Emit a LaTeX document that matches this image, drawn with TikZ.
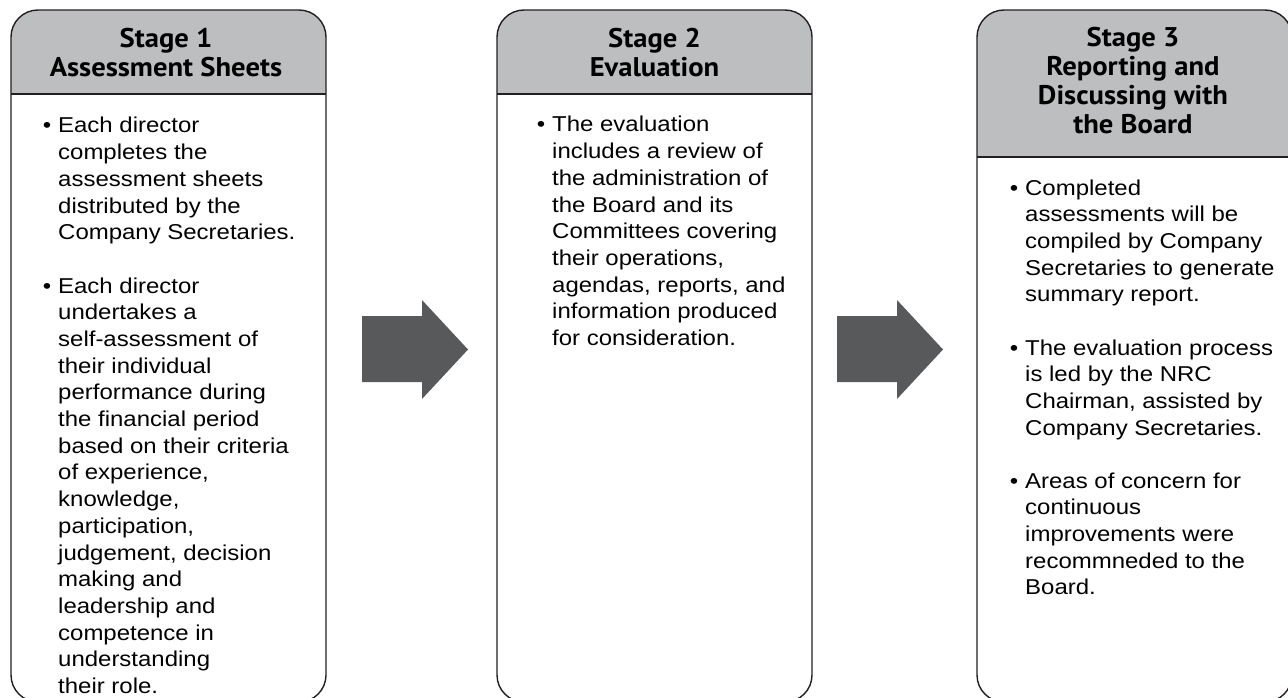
\documentclass[tikz,border=0pt]{standalone}
\usepackage{fontspec}
\newfontfamily\bodyfont[FakeStretch=1.115]{Liberation Sans}
\newfontfamily\headfont[FakeStretch=1.06]{PT Sans}
\definecolor{hdrgray}{HTML}{BCBEC0}
\definecolor{arrgray}{HTML}{58595B}
\definecolor{edge}{HTML}{231F20}
\newcommand\stagebox[3]{%
  \begin{scope}
    \clip[rounded corners=27pt] (#1,-10) rectangle (#2,-702);
    \fill[hdrgray] (#1,-10) rectangle (#2,-#3);
  \end{scope}
  \draw[boxline] (#1,-#3) -- (#2,-#3);
  \draw[boxline, rounded corners=27pt] (#1,-10) rectangle (#2,-702);
}
\tikzset{
  boxline/.style={draw=edge, line width=1.4pt},
  hdr/.style={anchor=base, inner sep=0pt, font=\headfont\bfseries\fontsize{27}{29}\selectfont},
  bul/.style={anchor=base west, inner sep=0pt, font=\bodyfont\fontsize{21.5}{26.7}\selectfont},
  blockarrow/.style={fill=arrgray, draw=none}
}
\newcommand\bitem[1]{\parbox[t]{320pt}{\raggedright\leavevmode\llap{\textbullet\hspace{7pt}}#1}}
\newcommand\hlines[1]{\parbox[t]{320pt}{\centering #1}}
\begin{document}
\begin{tikzpicture}[x=1pt,y=1pt]
\useasboundingbox (0,0) rectangle (1288,-698);
\fill[white] (0,0) rectangle (1288,-698);
% boxes
\stagebox{11}{326}{94}
\stagebox{497}{812}{94}
\stagebox{977}{1292}{157}
% headers
\node[hdr] (h1) at (166,-48) {\hlines{Stage 1\\Assessment Sheets}};
\node[hdr] (h2) at (654.5,-48) {\hlines{Stage 2\\Evaluation}};
\node[hdr] (h3) at (1133,-47) {\hlines{Stage 3\\Reporting and\\Discussing with\\the Board}};
% body box 1
\node[bul] (b1a) at (58,-133) {\bitem{Each director\\completes the\\assessment sheets\\distributed by the\\Company Secretaries.}};
\node[bul] (b1b) at (58,-293) {\bitem{Each director\\undertakes a\\self-assessment of\\their individual\\performance during\\the financial period\\based on their criteria\\of experience,\\knowledge,\\participation,\\judgement, decision\\making and\\leadership and\\competence in\\understanding\\their role.}};
% body box 2
\node[bul] (b2a) at (552,-132) {\bitem{The evaluation\\includes a review of\\the administration of\\the Board and its\\Committees covering\\their operations,\\agendas, reports, and\\information produced\\for consideration.}};
% body box 3
\node[bul] (b3a) at (1025,-195) {\bitem{Completed\\assessments will be\\compiled by Company\\Secretaries to generate\\summary report.}};
\node[bul] (b3b) at (1025,-355) {\bitem{The evaluation process\\is led by the NRC\\Chairman, assisted by\\Company Secretaries.}};
\node[bul] (b3c) at (1025,-488) {\bitem{Areas of concern for\\continuous\\improvements were\\recommneded to the\\Board.}};
% arrows
\fill[blockarrow] (362,-316) -- (422,-316) -- (422,-300) -- (468,-349.5) -- (422,-399) -- (422,-382) -- (362,-382) -- cycle;
\fill[blockarrow] (837,-316) -- (897,-316) -- (897,-300) -- (943,-349.5) -- (897,-399) -- (897,-382) -- (837,-382) -- cycle;
\end{tikzpicture}
\end{document}
